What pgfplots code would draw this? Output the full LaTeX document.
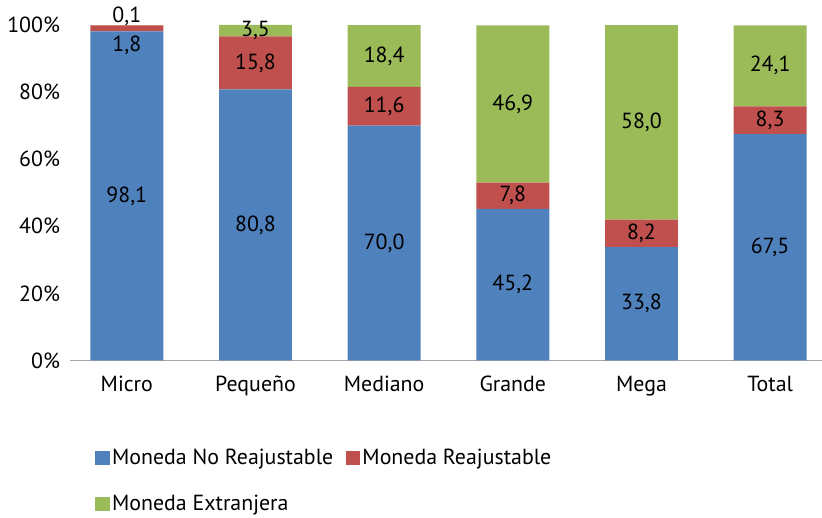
\documentclass[border=0pt]{standalone}
\usepackage{pgfplots}
\pgfplotsset{compat=1.18}
\usepackage{fontspec}
\setmainfont{PT Sans}
\definecolor{cb}{HTML}{4F81BD}
\definecolor{cr}{HTML}{C0504D}
\definecolor{cg}{HTML}{9BBB59}
\begin{document}
\begin{tikzpicture}[x=1pt,y=1pt]
\fontsize{21}{25}\selectfont
\begin{axis}[
 scale only axis, width=722pt, height=322pt,
 ybar stacked, bar width=70pt,
 xmin=-0.445, xmax=5.4, ymin=0, ymax=100,
 xtick={0,...,5}, xticklabels={Micro,Pequeño,Mediano,Grande,Mega,Total},
 ytick={0,20,...,100}, yticklabel={\pgfmathprintnumber{\tick}\%},
 /pgf/number format/assume math mode=true,
 ticklabel style={font=\fontsize{21}{25}\selectfont},
 xticklabel style={yshift=-8pt},
 yticklabel style={xshift=-2pt},
 axis line style={draw=none},
 tick style={draw=none},
 axis x line*=bottom, x axis line style={draw=gray!70, line width=0.8pt},
 point meta=explicit symbolic,
 nodes near coords, nodes near coords style={font=\fontsize{21}{25}\selectfont, anchor=center},
 nodes near coords align={center},
 legend style={at={(0.03,-0.25)}, anchor=north west, draw=none, legend columns=2,
   font=\fontsize{21}{25}\selectfont, /tikz/every even column/.append style={column sep=10pt},
   row sep=22pt},
 legend cell align=left,
 legend image code/.code={\fill[#1] (0pt,-7pt) rectangle (14pt,7pt);},
 clip=false,
]
\addplot[fill=cb, draw=none] table[meta=l] {
x y l
0 98.1 98,1
1 80.8 80,8
2 70.0 70,0
3 45.2 45,2
4 33.8 33,8
5 67.5 67,5
};
\addplot[fill=cr, draw=none] table[meta=l] {
x y l
0 1.8 {}
1 15.8 15,8
2 11.6 11,6
3 7.8 7,8
4 8.2 8,2
5 8.3 8,3
};
\addplot[fill=cg, draw=none] table[meta=l] {
x y l
0 0.1 {}
1 3.5 {}
2 18.4 18,4
3 46.9 46,9
4 58.0 58,0
5 24.1 24,1
};
\coordinate (a) at (axis cs:0,94);
\coordinate (b) at (axis cs:0,102.5);
\coordinate (c) at (axis cs:1,98.5);
\legend{Moneda No Reajustable, Moneda Reajustable, Moneda Extranjera}
\end{axis}
\node at (a) {1,8};
\node at (b) {0,1};
\node at (c) {3,5};
\end{tikzpicture}
\end{document}
